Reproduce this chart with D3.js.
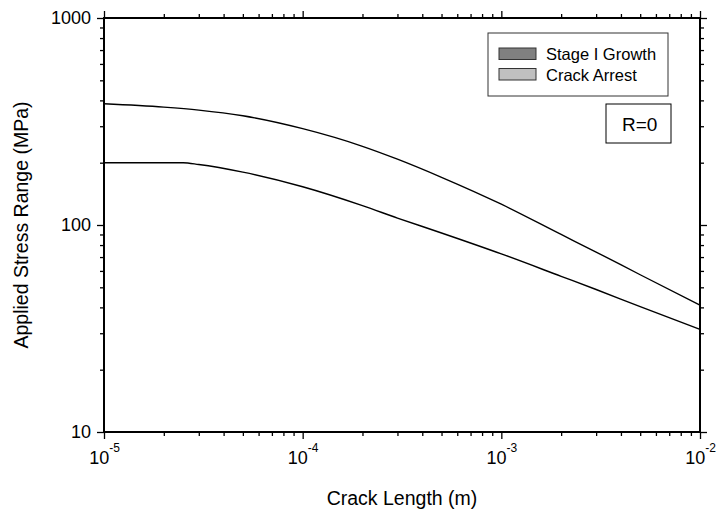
<!DOCTYPE html>
<html>
<head>
<meta charset="utf-8">
<script src="https://cdn.jsdelivr.net/npm/d3@7"></script>
<style>
  body { margin: 0; background: #fff; }
  svg { display: block; font-family: Arial, 'Liberation Sans', sans-serif; }
</style>
</head>
<body>
<div id="chart"></div>
<script>
// Crack length (m) and applied stress range (MPa)
var upperLength = [1e-5, 2e-5, 3e-5, 5e-5, 1e-4, 2e-4, 3e-4, 5e-4, 1e-3, 2e-3, 3e-3, 5e-3, 1e-2];
var upperStress = [385, 371, 359, 337, 292, 240, 208, 170, 126, 90, 74, 57.5, 41];

var lowerLength = [1e-5, 2.5e-5, 3e-5, 5e-5, 1e-4, 2e-4, 3e-4, 5e-4, 1e-3, 2e-3, 3e-3, 5e-3, 1e-2];
var lowerStress = [200, 200, 196, 180, 153, 124, 108, 91.5, 72.5, 56.5, 48.8, 40.3, 31.3];

var legendLabels = ['Stage I Growth', 'Crack Arrest'];
var legendColors = ['#808080', '#c0c0c0'];

var xMajor = [1e-5, 1e-4, 1e-3, 1e-2];
var xExponents = ['-5', '-4', '-3', '-2'];
var yMajor = [10, 100, 1000];

var W = 718, H = 513;
var margin = { top: 18, right: 18, bottom: 81, left: 104 };
var width = W - margin.left - margin.right;
var height = H - margin.top - margin.bottom;

var svg = d3.select('#chart').append('svg')
  .attr('width', W)
  .attr('height', H);

var g = svg.append('g')
  .attr('transform', 'translate(' + margin.left + ',' + margin.top + ')');

var x = d3.scaleLog().domain([1e-5, 1e-2]).range([0, width]);
var y = d3.scaleLog().domain([10, 1000]).range([height, 0]);

// minor ticks: 2..9 within each decade
function minorTicks(lo, hi) {
  var out = [];
  for (var e = Math.log10(lo); e < Math.log10(hi); e++) {
    for (var m = 2; m <= 9; m++) out.push(m * Math.pow(10, e));
  }
  return out;
}
var xMinor = minorTicks(1e-5, 1e-2);
var yMinor = minorTicks(10, 1000);

function styleAxis(sel) {
  sel.select('.domain').remove();
  sel.selectAll('.tick line').attr('stroke', '#000').attr('stroke-width', 1.3);
}

// minor ticks on all sides
g.append('g').attr('transform', 'translate(0,' + height + ')')
  .call(d3.axisBottom(x).tickValues(xMinor).tickSize(4).tickFormat(''))
  .call(styleAxis);
g.append('g')
  .call(d3.axisTop(x).tickValues(xMinor).tickSize(4).tickFormat(''))
  .call(styleAxis);
g.append('g')
  .call(d3.axisLeft(y).tickValues(yMinor).tickSize(4).tickFormat(''))
  .call(styleAxis);
g.append('g').attr('transform', 'translate(' + width + ',0)')
  .call(d3.axisRight(y).tickValues(yMinor).tickSize(4).tickFormat(''))
  .call(styleAxis);

// major ticks
var xAxis = g.append('g').attr('transform', 'translate(0,' + height + ')')
  .call(d3.axisBottom(x).tickValues(xMajor).tickSize(7).tickFormat(function () { return ''; }))
  .call(styleAxis);
g.append('g')
  .call(d3.axisTop(x).tickValues(xMajor).tickSize(7).tickFormat(''))
  .call(styleAxis);
var yAxis = g.append('g')
  .call(d3.axisLeft(y).tickValues(yMajor).tickSize(7).tickPadding(6).tickFormat(d3.format('d')))
  .call(styleAxis);
g.append('g').attr('transform', 'translate(' + width + ',0)')
  .call(d3.axisRight(y).tickValues(yMajor).tickSize(7).tickFormat(''))
  .call(styleAxis);

yAxis.selectAll('.tick text')
  .attr('font-size', 18)
  .attr('font-family', 'Arial, Liberation Sans, sans-serif')
  .attr('fill', '#000');

// x labels with superscript exponents
xAxis.selectAll('.tick text')
  .attr('font-size', 18)
  .attr('font-family', 'Arial, Liberation Sans, sans-serif')
  .attr('fill', '#000')
  .attr('y', 32)
  .attr('dy', 0)
  .each(function (d, i) {
    var t = d3.select(this);
    t.text(null);
    t.append('tspan').text('10');
    t.append('tspan').attr('font-size', 12).attr('dy', -12).text(xExponents[i]);
  });

// frame
g.append('rect')
  .attr('width', width)
  .attr('height', height)
  .attr('fill', 'none')
  .attr('stroke', '#000')
  .attr('stroke-width', 2);

// curves
var line = d3.line()
  .x(function (d) { return x(d[0]); })
  .y(function (d) { return y(d[1]); })
  .curve(d3.curveMonotoneX);

var series = [
  d3.zip(upperLength, upperStress),
  d3.zip(lowerLength, lowerStress)
];

g.selectAll('.curve')
  .data(series)
  .enter().append('path')
  .attr('class', 'curve')
  .attr('d', line)
  .attr('fill', 'none')
  .attr('stroke', '#000')
  .attr('stroke-width', 1.4);

// axis titles
svg.append('text')
  .attr('x', margin.left + width / 2)
  .attr('y', 505)
  .attr('text-anchor', 'middle')
  .attr('font-size', 19.5)
  .text('Crack Length (m)');

svg.append('text')
  .attr('transform', 'translate(28,' + (margin.top + height / 2) + ') rotate(-90)')
  .attr('text-anchor', 'middle')
  .attr('font-size', 19.5)
  .text('Applied Stress Range (MPa)');

// legend
var legend = svg.append('g').attr('transform', 'translate(488,33)');
legend.append('rect')
  .attr('width', 180)
  .attr('height', 63)
  .attr('fill', '#fff')
  .attr('stroke', '#333')
  .attr('stroke-width', 1);

var items = legend.selectAll('.item')
  .data(legendLabels)
  .enter().append('g')
  .attr('class', 'item')
  .attr('transform', function (d, i) { return 'translate(11,' + (15 + i * 20.5) + ')'; });

items.append('rect')
  .attr('width', 37)
  .attr('height', 11.5)
  .attr('fill', function (d, i) { return legendColors[i]; })
  .attr('stroke', '#333')
  .attr('stroke-width', 1);

items.append('text')
  .attr('x', 47)
  .attr('y', 12)
  .attr('font-size', 16.5)
  .text(function (d) { return d; });

// R=0 box
var rbox = svg.append('g').attr('transform', 'translate(606,104)');
rbox.append('rect')
  .attr('width', 65)
  .attr('height', 39)
  .attr('fill', '#fff')
  .attr('stroke', '#000')
  .attr('stroke-width', 1);
rbox.append('text')
  .attr('x', 16)
  .attr('y', 26.5)
  .attr('font-size', 19)
  .text('R=0');
</script>
</body>
</html>
